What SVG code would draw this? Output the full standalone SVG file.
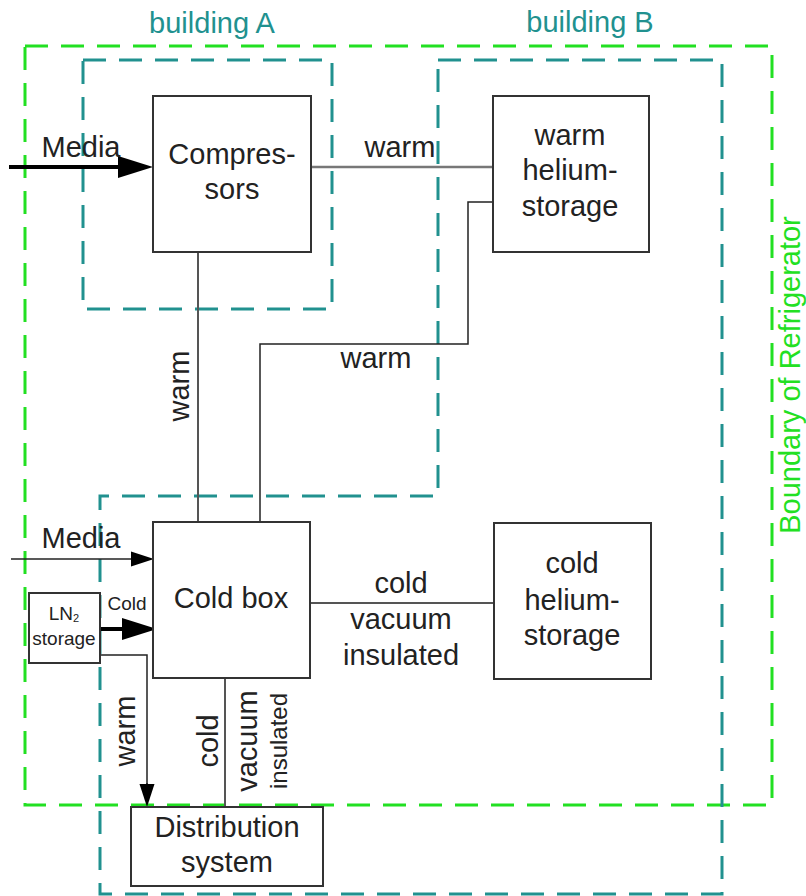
<svg xmlns="http://www.w3.org/2000/svg" width="806" height="896" viewBox="0 0 806 896">
<style>
text{font-family:"Liberation Sans",Arial,sans-serif;fill:#222}
.t{font-size:29px;text-anchor:middle}
.s{font-size:19px;text-anchor:middle}
.box{fill:#fff;stroke:#333;stroke-width:2}
.bld{fill:none;stroke:#21918f;stroke-width:3;stroke-dasharray:23 13}
.bnd{fill:none;stroke:#22e022;stroke-width:3;stroke-dasharray:23 13}
.ln{fill:none;stroke:#555;stroke-width:2}
.lk{fill:none;stroke:#222;stroke-width:1.5}
.bt{fill:#21918f;font-size:29px;text-anchor:middle}
</style>
<defs>
<marker id="big" markerUnits="userSpaceOnUse" markerWidth="36" markerHeight="24" viewBox="0 0 36 24" refX="0" refY="12" orient="auto"><path d="M0,1 L35,12 L0,23 Z" fill="#000"/></marker>
<marker id="small" markerUnits="userSpaceOnUse" markerWidth="24" markerHeight="18" viewBox="0 0 24 18" refX="0" refY="9" orient="auto"><path d="M0,1.5 L23,9 L0,16.5 Z" fill="#000"/></marker>
</defs>
<g id="boundaries">
<rect class="bnd" x="25" y="46" width="747" height="759"/>
<rect class="bld" x="83" y="60" width="249" height="249"/>
<path class="bld" d="M438,60 H722 V894 H100 V496 H438 Z"/>
<text class="bt" x="212" y="33">building A</text>
<text class="bt" x="590" y="32">building B</text>
<text x="800" y="375" transform="rotate(-90 800 375)" style="font-size:29px;text-anchor:middle;fill:#22e022">Boundary of Refrigerator</text>
</g>
<g id="connectors">
<path d="M9,167 H118" stroke="#000" stroke-width="4" fill="none" marker-end="url(#big)"/>
<text class="t" x="81" y="157">Media</text>
<path d="M311,167 H493" fill="none" stroke="#777" stroke-width="2.5"/>
<text class="t" x="400" y="157">warm</text>
<path class="ln" d="M198,252 V522"/>
<text class="t" x="189" y="386" transform="rotate(-90 189 386)">warm</text>
<path class="lk" d="M493,202 H468 V344 H260 V522"/>
<text class="t" x="376" y="368">warm</text>
<path d="M11,559 H131" stroke="#222" stroke-width="1.5" fill="none" marker-end="url(#small)"/>
<text class="t" x="81" y="548">Media</text>
<path d="M100,629 H122" stroke="#000" stroke-width="4" fill="none" marker-end="url(#big)"/>
<text class="s" x="127" y="610">Cold</text>
<path class="lk" d="M100,655 H147 V784"/>
<path d="M147,783 V784" stroke="#000" stroke-width="1" fill="none" marker-end="url(#small)"/>
<text class="t" x="135" y="731" transform="rotate(-90 135 731)">warm</text>
<path class="ln" d="M225,678 V807"/>
<text class="t" x="218" y="741" transform="rotate(-90 218 741)">cold</text>
<text class="t" x="257" y="741" transform="rotate(-90 257 741)">vacuum</text>
<text x="287" y="741" transform="rotate(-90 287 741)" style="font-size:24px;text-anchor:middle">insulated</text>
<path class="ln" d="M310,603 H494"/>
<text class="t" x="401" y="593">cold</text>
<text class="t" x="401" y="629">vacuum</text>
<text class="t" x="401" y="665">insulated</text>
</g>
<g id="compressors">
<rect class="box" x="153" y="96" width="158" height="156"/>
<text class="t" x="232" y="164">Compres-</text>
<text class="t" x="232" y="199">sors</text>
</g>
<g id="warm-helium-storage">
<rect class="box" x="493" y="96" width="156" height="156"/>
<text class="t" x="570" y="145">warm</text>
<text class="t" x="570" y="180">helium-</text>
<text class="t" x="570" y="216">storage</text>
</g>
<g id="cold-box">
<rect class="box" x="153" y="522" width="157" height="156"/>
<text class="t" x="231" y="608">Cold box</text>
</g>
<g id="cold-helium-storage">
<rect class="box" x="494" y="523" width="157" height="156"/>
<text class="t" x="572" y="573">cold</text>
<text class="t" x="572" y="610">helium-</text>
<text class="t" x="572" y="645">storage</text>
</g>
<g id="ln2-storage">
<rect class="box" x="29" y="593" width="71" height="70"/>
<text class="s" x="64" y="620">LN<tspan style="font-size:11px" dy="2">2</tspan></text>
<text class="s" x="64" y="645">storage</text>
</g>
<g id="distribution-system">
<rect class="box" x="131" y="807" width="192" height="79"/>
<text class="t" x="227" y="837">Distribution</text>
<text class="t" x="227" y="872">system</text>
</g>
</svg>
